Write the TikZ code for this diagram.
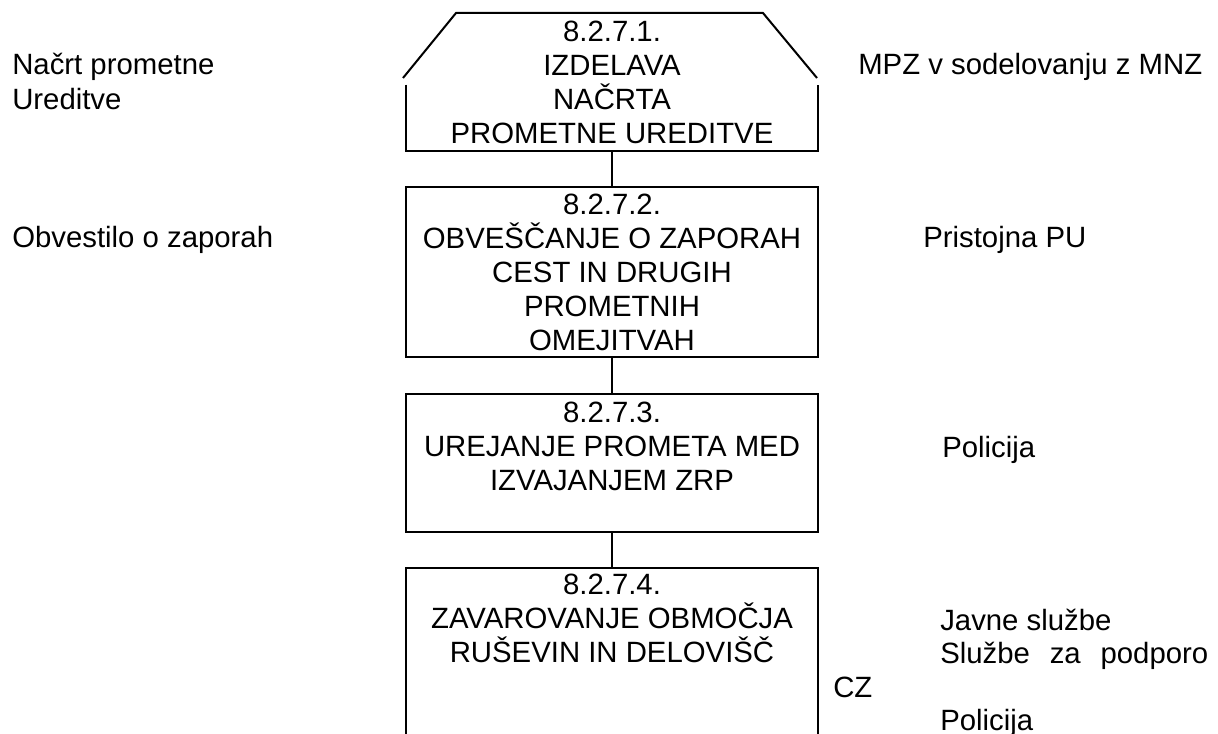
\documentclass[tikz,border=0pt]{standalone}
\usepackage{fontspec}
\setmainfont{Liberation Sans}
\begin{document}
\begin{tikzpicture}[x=0.75pt,y=-0.75pt,
  every node/.style={font=\fontsize{22pt}{25.5pt}\selectfont, inner sep=0pt},
  ln/.style={line width=1.5pt, line cap=butt},
  box/.style={draw, line width=1.5pt, minimum width=309pt},
  frame/.style={minimum width=309pt},
  boxtext/.style={anchor=north, align=center},
  lbl/.style={anchor=base west},
  lblm/.style={anchor=north west, align=left}]
\useasboundingbox (0,0) rectangle (1218,734);
\clip (0,0) rectangle (1218,734);
% box 1 (open top with trapezoid cap)
\node[frame, minimum height=49.5pt] (b1) at (612,118) {};
\draw[ln] (403,78) -- (456,13) -- (763,13) -- (817,78);
\draw[ln] (b1.north west) -- (b1.south west) -- (b1.south east) -- (b1.north east);
\node[boxtext] (t1) at (612,21) {8.2.7.1.\\IZDELAVA\\NAČRTA\\PROMETNE UREDITVE};
% box 2
\node[box, minimum height=127.5pt] (b2) at (612,272) {};
\node[boxtext] (t2) at (612,194) {8.2.7.2.\\OBVEŠČANJE O ZAPORAH\\CEST IN DRUGIH\\PROMETNIH\\OMEJITVAH};
% box 3
\node[box, minimum height=103.5pt] (b3) at (612,463) {};
\node[boxtext] (t3) at (612,402) {8.2.7.3.\\UREJANJE PROMETA MED\\IZVAJANJEM ZRP};
% box 4
\node[box, minimum height=138pt] (b4) at (612,660) {};
\node[boxtext] (t4) at (612,574) {8.2.7.4.\\ZAVAROVANJE OBMOČJA\\RUŠEVIN IN DELOVIŠČ};
% connectors
\draw[ln] (b1.south) -- (b2.north);
\draw[ln] (b2.south) -- (b3.north);
\draw[ln] (b3.south) -- (b4.north);
% left labels
\node[lbl] (l1a) at (12,75) {Načrt prometne};
\node[lbl] (l1b) at (12,110) {Ureditve};
\node[lbl] (l2) at (12,248) {Obvestilo o zaporah};
% right labels
\node[lbl] (r1) at (858,75) {MPZ v sodelovanju z MNZ};
\node[lbl] (r2) at (923,248) {Pristojna PU};
\node[lbl] (r3) at (942,457) {Policija};
\node[lbl] (r4a) at (940,630) {Javne službe};
\node[lbl] (r4b) at (940,663) {\makebox[201pt][s]{Službe za podporo}};
\node[lbl] (r4c) at (833,697) {CZ};
\node[lbl] (r4d) at (940,730) {Policija};
\end{tikzpicture}
\end{document}
